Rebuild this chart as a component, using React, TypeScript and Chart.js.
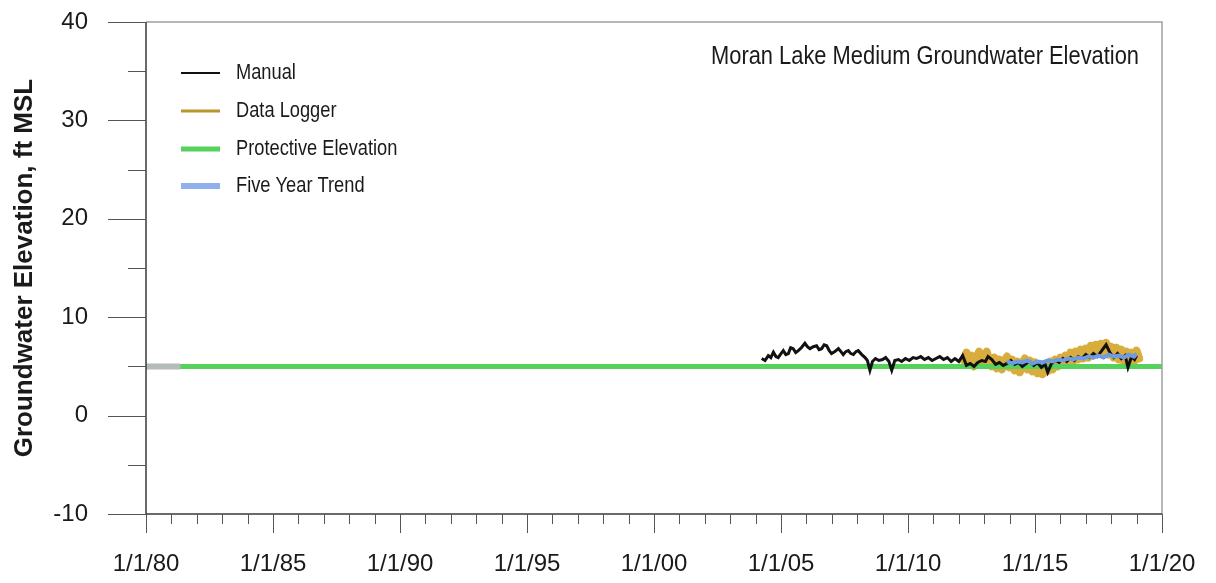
import React, { useEffect, useRef } from "react";
import { Chart, registerables } from "chart.js";

Chart.register(...registerables);

const chartTitle = "Moran Lake Medium Groundwater Elevation";
const yAxisTitle = "Groundwater Elevation, ft MSL";
const legendLabels = ["Manual", "Data Logger", "Protective Elevation", "Five Year Trend"];

const xMin = 1980;
const xMax = 2020;
const yMin = -10;
const yMax = 40;

const manualDates = [
  2004.24, 2004.37, 2004.5, 2004.6, 2004.7, 2004.8, 2004.89, 2005.0, 2005.09, 2005.19,
  2005.29, 2005.38, 2005.48, 2005.58, 2005.68, 2005.8, 2005.94, 2006.04, 2006.14, 2006.27,
  2006.4, 2006.5, 2006.6, 2006.7, 2006.8, 2006.9, 2006.99, 2007.12, 2007.26, 2007.36,
  2007.45, 2007.55, 2007.65, 2007.75, 2007.85, 2007.95, 2008.04, 2008.18, 2008.31, 2008.4,
  2008.5, 2008.6, 2008.72, 2008.85, 2009.0, 2009.12, 2009.25, 2009.36, 2009.48, 2009.62,
  2009.75, 2009.9, 2010.05, 2010.2, 2010.34, 2010.5, 2010.65, 2010.8, 2010.95, 2011.1,
  2011.25, 2011.4, 2011.55, 2011.7, 2011.85, 2012.0, 2012.15, 2012.3, 2012.45, 2012.6,
  2012.75, 2012.9, 2013.05, 2013.15, 2013.3, 2013.45, 2013.6, 2013.75, 2013.9, 2014.05,
  2014.2, 2014.35, 2014.5, 2014.65, 2014.8, 2014.95, 2015.1, 2015.25, 2015.4, 2015.5,
  2015.65, 2015.8, 2015.95, 2016.1, 2016.25, 2016.4, 2016.55, 2016.7, 2016.85, 2017.0,
  2017.15, 2017.3, 2017.45, 2017.6, 2017.8, 2017.95, 2018.1, 2018.25, 2018.4, 2018.55,
  2018.66, 2018.8, 2018.92, 2019.0,
];
const manualValues = [
  5.8, 5.6, 6.1, 5.9, 6.45, 6.0, 5.9, 6.3, 6.6, 6.2,
  6.3, 6.9, 6.8, 6.4, 6.6, 6.9, 7.35, 7.0, 6.8, 7.0,
  7.1, 6.7, 6.8, 7.2, 7.1, 6.6, 6.3, 6.5, 6.8, 6.5,
  6.2, 6.5, 6.6, 6.3, 6.2, 6.5, 6.6, 6.2, 5.9, 5.6,
  4.6, 5.5, 5.8, 5.6, 5.7, 5.9, 5.5, 4.6, 5.6, 5.7,
  5.5, 5.8, 5.6, 5.9, 5.8, 6.0, 5.7, 5.9, 5.6, 5.8,
  6.0, 5.7, 5.9, 5.5, 5.8, 5.5, 6.1, 5.1, 5.3, 5.0,
  5.4, 5.6, 5.5, 6.0, 5.7, 5.2, 5.4, 5.1, 5.3, 5.6,
  5.2, 5.4, 5.0, 5.3, 5.5, 5.1, 5.4, 4.9, 5.2, 4.4,
  5.3, 5.6, 5.4, 5.8, 5.5, 5.9, 5.6, 6.0, 5.8, 6.2,
  5.9, 6.3, 6.0, 6.5, 7.2, 6.4, 5.9, 6.3, 5.8, 6.1,
  4.9, 6.0, 5.7, 6.1,
];

const loggerDates = [
  2012.2, 2012.3, 2012.4, 2012.5, 2012.6, 2012.7, 2012.8, 2012.9, 2013.0, 2013.1,
  2013.2, 2013.3, 2013.4, 2013.5, 2013.6, 2013.7, 2013.8, 2013.9, 2014.0, 2014.1,
  2014.2, 2014.3, 2014.4, 2014.5, 2014.6, 2014.7, 2014.8, 2014.9, 2015.0, 2015.1,
  2015.2, 2015.3, 2015.4, 2015.5, 2015.6, 2015.7, 2015.8, 2015.9, 2016.0, 2016.1,
  2016.2, 2016.3, 2016.4, 2016.5, 2016.6, 2016.7, 2016.8, 2016.9, 2017.0, 2017.1,
  2017.2, 2017.3, 2017.4, 2017.5, 2017.6, 2017.7, 2017.8, 2017.9, 2018.0, 2018.1,
  2018.2, 2018.3, 2018.4, 2018.5, 2018.6, 2018.7, 2018.8, 2018.9, 2019.0, 2019.1,
];
const loggerValues = [
  5.6, 6.4, 5.2, 6.1, 5.0, 5.9, 6.5, 5.3, 6.0, 6.5,
  5.6, 5.0, 5.9, 4.8, 5.7, 4.7, 5.6, 6.0, 4.9, 5.7,
  4.6, 5.5, 4.4, 5.3, 5.8, 4.7, 5.6, 4.5, 5.4, 4.3,
  5.1, 4.2, 5.2, 4.5, 5.5, 4.7, 5.7, 5.0, 5.9, 5.2,
  6.1, 5.3, 6.4, 5.5, 6.5, 5.7, 6.7, 5.8, 6.8, 5.9,
  7.1, 6.1, 7.2, 6.3, 7.3, 6.4, 7.4, 6.2, 7.0, 5.9,
  6.9, 5.7, 6.7, 5.5, 6.5, 5.2, 6.4, 5.5, 6.6, 5.8,
];

const trendDates = [
  2013.9, 2014.1, 2014.3, 2014.5, 2014.7, 2014.9, 2015.1, 2015.3, 2015.5, 2015.7,
  2015.9, 2016.1, 2016.3, 2016.5, 2016.7, 2016.9, 2017.1, 2017.3, 2017.5, 2017.7,
  2017.9, 2018.1, 2018.3, 2018.5, 2018.7, 2018.9, 2019.0,
];
const trendValues = [
  5.5, 5.3, 5.5, 5.4, 5.6, 5.3, 5.5, 5.4, 5.6, 5.5,
  5.7, 5.6, 5.8, 5.7, 5.9, 5.8, 6.0, 5.9, 6.1, 5.9,
  6.2, 6.0, 6.1, 5.9, 6.2, 6.0, 6.3,
];

const protectiveDates = [1980, 2020];
const protectiveValues = [5, 5];
const baselineDates = [1980, 1981.35];
const baselineValues = [5, 5];

const colors = {
  manual: "#111111",
  logger: "rgba(214,166,45,0.92)",
  loggerLegend: "#b8962e",
  protective: "#55d25c",
  trend: "#6f9be3",
  trendLegend: "#8fb0ea",
  baseline: "#b3bcb6",
};

const toPoints = (xs: number[], ys: number[]) => xs.map((x, i) => ({ x, y: ys[i] }));

const FONT = '"Liberation Sans", Arial, sans-serif';

const decorPlugin = {
  id: "decor",
  afterDraw(chart: any) {
    const { ctx, chartArea: a, scales } = chart;
    const xs = scales.x;
    const ys = scales.y;
    ctx.save();
    // box
    ctx.lineWidth = 1.5;
    ctx.strokeStyle = "#a0a0a0";
    ctx.beginPath();
    ctx.moveTo(a.left, a.top);
    ctx.lineTo(a.right, a.top);
    ctx.lineTo(a.right, a.bottom);
    ctx.stroke();
    ctx.strokeStyle = "#3a3a3a";
    ctx.beginPath();
    ctx.moveTo(a.left, a.top);
    ctx.lineTo(a.left, a.bottom);
    ctx.lineTo(a.right, a.bottom);
    ctx.stroke();
    // tick marks
    ctx.lineWidth = 1;
    ctx.strokeStyle = "#555";
    xs.ticks.forEach((t: any) => {
      const px = Math.round(xs.getPixelForValue(t.value)) + 0.5;
      const len = t.value % 5 === 0 ? 19 : 10;
      ctx.beginPath();
      ctx.moveTo(px, a.bottom);
      ctx.lineTo(px, a.bottom + len);
      ctx.stroke();
    });
    ys.ticks.forEach((t: any) => {
      const py = Math.round(ys.getPixelForValue(t.value)) + 0.5;
      const len = t.value % 10 === 0 ? 38 : 18;
      ctx.beginPath();
      ctx.moveTo(a.left - len, py);
      ctx.lineTo(a.left, py);
      ctx.stroke();
    });
    // y axis title
    ctx.fillStyle = "#1a1a1a";
    ctx.font = `bold 26px ${FONT}`;
    ctx.textAlign = "center";
    ctx.textBaseline = "middle";
    ctx.save();
    ctx.translate(25, (a.top + a.bottom) / 2);
    ctx.rotate(-Math.PI / 2);
    ctx.fillText(yAxisTitle, 0, 0);
    ctx.restore();
    // chart title (condensed)
    ctx.font = `25px ${FONT}`;
    ctx.textAlign = "right";
    ctx.save();
    ctx.translate(1139, 57);
    ctx.scale(0.875, 1);
    ctx.fillText(chartTitle, 0, 0);
    ctx.restore();
    // legend
    const rows = [
      { c: colors.manual, w: 2 },
      { c: colors.loggerLegend, w: 3 },
      { c: colors.protective, w: 5 },
      { c: colors.trendLegend, w: 6 },
    ];
    const rowY = [73, 111, 149, 186];
    ctx.font = `22px ${FONT}`;
    ctx.textAlign = "left";
    rows.forEach((r, i) => {
      ctx.strokeStyle = r.c;
      ctx.lineWidth = r.w;
      ctx.beginPath();
      ctx.moveTo(181, rowY[i]);
      ctx.lineTo(220, rowY[i]);
      ctx.stroke();
      ctx.save();
      ctx.translate(236, rowY[i]);
      ctx.scale(0.83, 1);
      ctx.fillStyle = "#1a1a1a";
      ctx.fillText(legendLabels[i], 0, 0);
      ctx.restore();
    });
    ctx.restore();
  },
};

const zeroPad = (s: any) => {
  s.paddingTop = 0;
  s.paddingBottom = 0;
  s.paddingLeft = 0;
  s.paddingRight = 0;
};

export default function App() {
  const canvasRef = useRef<HTMLCanvasElement | null>(null);

  useEffect(() => {
    if (!canvasRef.current) return;
    const chart = new Chart(canvasRef.current, {
      type: "line",
      data: {
        datasets: [
          {
            label: legendLabels[2],
            data: toPoints(protectiveDates, protectiveValues),
            borderColor: colors.protective,
            borderWidth: 5,
            pointRadius: 0,
            order: 2,
          },
          {
            label: "baseline",
            data: toPoints(baselineDates, baselineValues),
            borderColor: colors.baseline,
            borderWidth: 6,
            pointRadius: 0,
            order: 1,
          },
          {
            label: legendLabels[1],
            data: toPoints(loggerDates, loggerValues),
            borderColor: colors.logger,
            borderWidth: 8,
            pointRadius: 0,
            borderJoinStyle: "round",
            borderCapStyle: "round",
            order: 3,
          },
          {
            label: legendLabels[0],
            data: toPoints(manualDates, manualValues),
            borderColor: colors.manual,
            borderWidth: 3,
            pointRadius: 0,
            order: 1,
          },
          {
            label: legendLabels[3],
            data: toPoints(trendDates, trendValues),
            borderColor: colors.trend,
            borderWidth: 4,
            pointRadius: 0,
            order: 0,
          },
        ],
      },
      options: {
        responsive: false,
        animation: false,
        layout: { padding: { left: 0, right: 54, top: 22, bottom: 0 } },
        plugins: {
          legend: { display: false },
          tooltip: { enabled: false },
          title: { display: false },
        },
        scales: {
          x: {
            type: "linear",
            min: xMin,
            max: xMax,
            grid: { display: false, drawTicks: false },
            border: { display: false },
            afterFit: (s: any) => {
              s.height = 69;
              zeroPad(s);
            },
            ticks: {
              stepSize: 1,
              autoSkip: false,
              maxRotation: 0,
              padding: 36,
              color: "#1a1a1a",
              font: { family: FONT, size: 24 },
              callback: (v: any) =>
                Number(v) % 5 === 0 ? `1/1/${String(Number(v) % 100).padStart(2, "0")}` : "",
            },
          },
          y: {
            min: yMin,
            max: yMax,
            grid: { display: false, drawTicks: false },
            border: { display: false },
            afterFit: (s: any) => {
              s.width = 146;
              zeroPad(s);
            },
            ticks: {
              stepSize: 5,
              autoSkip: false,
              padding: 58,
              color: "#1a1a1a",
              font: { family: FONT, size: 24 },
              callback: (v: any) => (Number(v) % 10 === 0 ? String(v) : ""),
            },
          },
        },
      },
      plugins: [decorPlugin],
    });
    return () => chart.destroy();
  }, []);

  return (
    <div style={{ position: "absolute", left: 0, top: 0, width: 1216, height: 583, background: "#fff" }}>
      <canvas ref={canvasRef} width={1216} height={583} style={{ display: "block" }} />
    </div>
  );
}
